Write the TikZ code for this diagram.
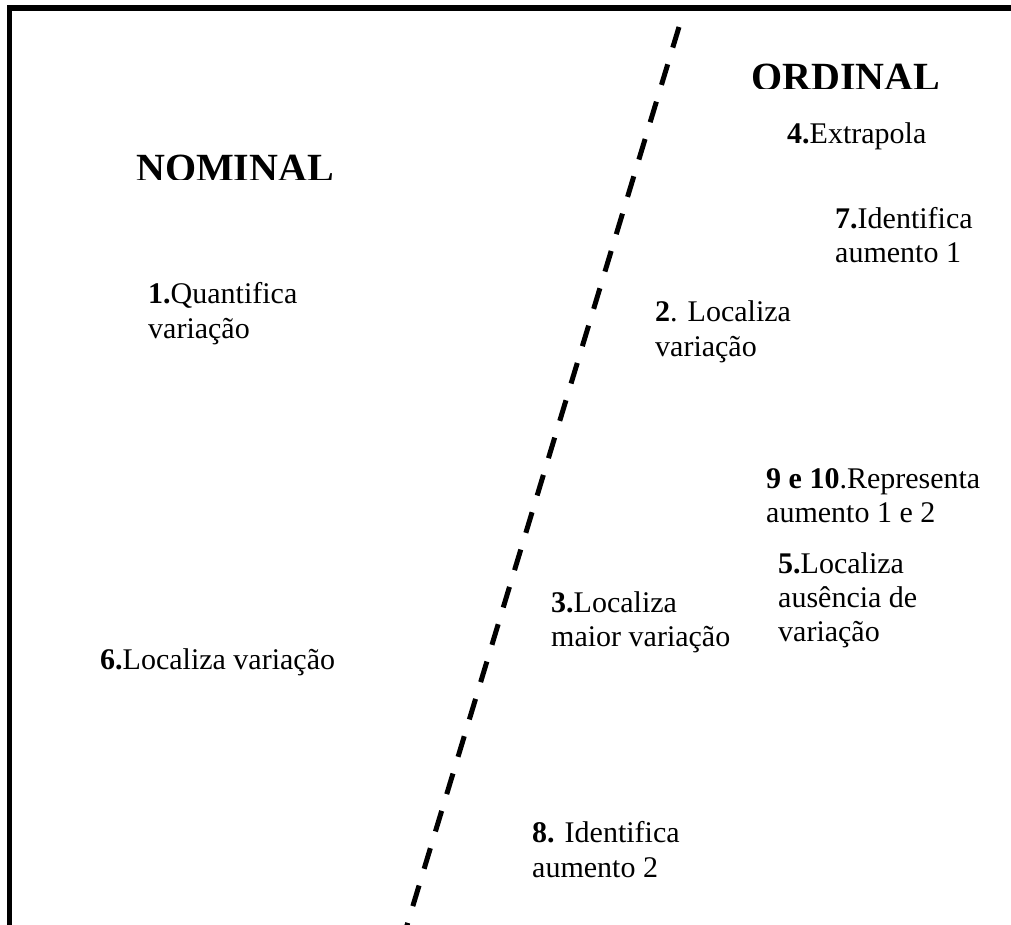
\documentclass[tikz,border=0pt]{standalone}
\usepackage{fontspec}
\setmainfont{Liberation Serif}
\begin{document}
\begin{tikzpicture}[x=1bp,y=-1bp,
  frame/.style={line width=5.5bp, line join=miter},
  divider/.style={line width=5bp, dash pattern=on 21.5bp off 17.5bp},
  txt/.style={anchor=base west, inner sep=0pt, font=\fontsize{30bp}{34bp}\selectfont},
  head/.style={anchor=base west, inner sep=0pt, font=\fontsize{40bp}{46bp}\selectfont\bfseries}]
\useasboundingbox (0,0) rectangle (1011,925);
\clip (0,0) rectangle (1011,925);

% frame: left and top edges only
\coordinate (fbl) at (9.5,930);
\coordinate (ftl) at (9.5,8);
\coordinate (ftr) at (1015,8);
\draw[frame] (fbl) -- (ftl) -- (ftr);

% dashed divider between the two sides
\coordinate (dtop) at (679,27);
\coordinate (dbot) at (395.9,962);
\draw[divider] (dtop) -- (dbot);

% headings, cut at their lower edge
\begin{scope}
  \clip (100,40) rectangle (400,179.5);
  \node[head] (nominal) at (136,181) {NOMINAL};
\end{scope}
\begin{scope}
  \clip (700,20) rectangle (1000,88.5);
  \node[head] (ordinal) at (751,90) {ORDINAL};
\end{scope}

% items on the ordinal side
\node[txt] (i4) at (787,143) {\textbf{4.}Extrapola};
\node[txt] (i7a) at (835,228) {\textbf{7.}Identifica};
\node[txt] (i7b) at (835,262) {aumento 1};
\node[txt] (i2a) at (655,321) {\textbf{2}. Localiza};
\node[txt] (i2b) at (655,356) {variação};
\node[txt] (i9a) at (766,488) {\textbf{9 e 10}.Representa};
\node[txt] (i9b) at (766,522) {aumento 1 e 2};
\node[txt] (i5a) at (778,573) {\textbf{5.}Localiza};
\node[txt] (i5b) at (778,607) {ausência de};
\node[txt] (i5c) at (778,641) {variação};
\node[txt] (i3a) at (551,612) {\textbf{3.}Localiza};
\node[txt] (i3b) at (551,646) {maior variação};
\node[txt] (i8a) at (532,842) {\textbf{8.} Identifica};
\node[txt] (i8b) at (532,877) {aumento 2};

% items on the nominal side
\node[txt] (i1a) at (148,303) {\textbf{1.}Quantifica};
\node[txt] (i1b) at (148,338) {variação};
\node[txt] (i6) at (100,669) {\textbf{6.}Localiza variação};
\end{tikzpicture}
\end{document}
